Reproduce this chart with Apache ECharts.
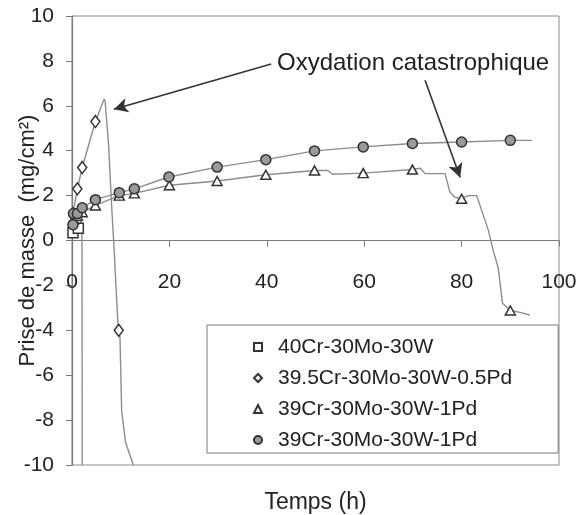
<!DOCTYPE html>
<html>
<head>
<meta charset="utf-8">
<script src="https://cdn.jsdelivr.net/npm/echarts@6/dist/echarts.min.js"></script>
<style>
html,body{margin:0;padding:0;background:#fff;}
#chart{width:580px;height:515px;}
</style>
</head>
<body>
<div id="chart"></div>
<script>
// ---- Data ----
const seriesNames = ['40Cr-30Mo-30W', '39.5Cr-30Mo-30W-0.5Pd', '39Cr-30Mo-30W-1Pd', '39Cr-30Mo-30W-1Pd '];

// 40Cr-30Mo-30W (squares)
const squareMarks = [[0.2, 0.35], [1.3, 0.55]];
const squareCurve = [[0, 0.1], [0.2, 0.35], [1.3, 0.55], [1.9, 0.95], [2.05, 0], [2.1, -10]];

// 39.5Cr-30Mo-30W-0.5Pd (diamonds)
const diamondMarks = [[0.2, 1.2], [1.1, 2.3], [2.1, 3.25], [4.8, 5.3], [9.6, -4.0]];
const diamondCurve = [[0, 0.5], [0.2, 1.2], [1.1, 2.3], [2.1, 3.25], [4.8, 5.3], [6.6, 6.3], [6.8, 6.2],
  [7.5, 4.3], [8.15, 1.5], [8.7, -0.6], [9.4, -3.6], [9.6, -4.0], [9.85, -4.3], [10.2, -7.6], [11, -9], [12.6, -10]];

// 39Cr-30Mo-30W-1Pd (triangles)
const triangleMarks = [[0.3, 0.95], [1.1, 1.1], [2.1, 1.26], [4.8, 1.56], [9.7, 2.0], [12.8, 2.1], [20, 2.46],
  [29.8, 2.65], [39.8, 2.93], [49.8, 3.12], [59.8, 3.0], [69.9, 3.16], [80, 1.86], [90, -3.12]];
const triangleCurve = [[0, 0.5], [0.3, 0.95], [1.1, 1.1], [2.1, 1.26], [4.8, 1.56], [9.7, 2.0], [12.8, 2.1], [20, 2.46],
  [29.8, 2.65], [39.8, 2.93], [49.8, 3.12], [52.5, 3.12], [53.5, 2.95], [59.8, 3.0], [69.9, 3.16], [71.5, 3.22],
  [72.5, 2.98], [76.6, 2.98], [77.6, 2.16], [78.6, 1.93], [80, 1.86], [81.3, 2.0], [83.1, 2.0], [85.5, 0.45],
  [86.5, -0.45], [87.5, -1.2], [88.4, -2.8], [90, -3.12], [92, -3.2], [94, -3.32]];

// 39Cr-30Mo-30W-1Pd (grey circles)
const circleMarks = [[0.2, 0.7], [0.3, 1.2], [1.1, 1.2], [2.1, 1.46], [4.8, 1.82], [9.7, 2.13], [12.8, 2.3], [19.9, 2.83],
  [29.8, 3.27], [39.8, 3.6], [49.8, 3.99], [59.8, 4.17], [69.9, 4.32], [80, 4.39], [90, 4.46]];
const circleCurve = [[0, 0.4], [0.3, 1.2], [1.1, 1.2], [2.1, 1.46], [4.8, 1.82], [9.7, 2.13], [12.8, 2.3], [19.9, 2.83],
  [29.8, 3.27], [39.8, 3.6], [49.8, 3.99], [59.8, 4.17], [69.9, 4.32], [80, 4.39], [90, 4.46], [94.5, 4.46]];

// Annotation arrows (data coordinates: from -> to)
const arrowPeak = [[40.9, 7.86], [8.6, 5.85]];
const arrowDrop = [[72.5, 7.14], [79.7, 2.81]];
const annotationText = 'Oxydation catastrophique';

const xTitle = 'Temps (h)';
const yTitle = 'Prise de masse  (mg/cm²)';

// ---- Chart ----
const FONT = "'Liberation Sans', Arial, sans-serif";
const lineGrey = '#8c8c8c';
const markEdge = '#333333';
const GRID = { left: 72, right: 21, top: 16, bottom: 50 };
const PLOT_H = 515 - GRID.top - GRID.bottom;
// the x axis sits on y = 0, i.e. half-way up the plot (y range -10..10)
const X_AXIS_OFFSET = -PLOT_H / 2;

function curve(name, data, extra) {
  return Object.assign({
    name: name, type: 'line', data: data, showSymbol: false, symbol: 'none',
    lineStyle: { color: lineGrey, width: 1.4 }, itemStyle: { color: lineGrey },
    silent: true, animation: false, z: 2
  }, extra || {});
}
function marks(name, data, symbol, size, fill) {
  return {
    name: name, type: 'scatter', data: data, symbol: symbol, symbolSize: size,
    itemStyle: { color: fill, borderColor: markEdge, borderWidth: 1.5, opacity: 1 },
    animation: false, z: 3
  };
}

const chart = echarts.init(document.getElementById('chart'), null, { renderer: 'canvas' });
chart.setOption({
  backgroundColor: '#fff',
  textStyle: { fontFamily: FONT },
  grid: Object.assign({ containLabel: false, outerBoundsMode: 'none',
          show: true, borderColor: '#8a8a8a', borderWidth: 1 }, GRID),
  xAxis: {
    type: 'value', min: 0, max: 100, interval: 20,
    position: 'bottom', offset: X_AXIS_OFFSET,
    name: xTitle, nameLocation: 'middle', nameGap: 251, nameMoveOverlap: false,
    nameTextStyle: { fontFamily: FONT, fontSize: 23, color: '#222' },
    axisLine: { onZero: false, lineStyle: { color: '#7a7a7a', width: 1.2 } },
    axisTick: { show: true, inside: false, length: 6, lineStyle: { color: '#7a7a7a' } },
    axisLabel: { margin: 31, fontFamily: FONT, fontSize: 21, color: '#222' },
    splitLine: { show: false }
  },
  yAxis: {
    type: 'value', min: -10, max: 10, interval: 2,
    name: yTitle, nameLocation: 'middle', nameGap: 33, nameRotate: 90, nameMoveOverlap: false,
    nameTextStyle: { fontFamily: FONT, fontSize: 22, color: '#222' },
    axisLine: { show: true, onZero: false, lineStyle: { color: '#7a7a7a', width: 1.2 } },
    axisTick: { show: true, inside: false, length: 6, lineStyle: { color: '#7a7a7a' } },
    axisLabel: { margin: 18, fontFamily: FONT, fontSize: 21, color: '#222' },
    splitLine: { show: false }
  },
  legend: {
    data: seriesNames,
    orient: 'vertical', left: 207, top: 325,
    padding: [11, 46, 2, 46],
    itemWidth: 8, itemHeight: 8, itemGap: 9,
    borderColor: '#7a7a7a', borderWidth: 1, backgroundColor: '#fff',
    formatter: n => n.trim(),
    textStyle: { fontFamily: FONT, fontSize: 21, color: '#222', lineHeight: 22, padding: [0, 0, 0, 11] },
    selectedMode: false
  },
  graphic: [{
    type: 'text', left: 277, top: 51,
    style: { text: annotationText, font: '24px ' + FONT, fill: '#222' }
  }],
  series: [
    curve('c-square', squareCurve),
    curve('c-diamond', diamondCurve),
    curve('c-triangle', triangleCurve),
    curve('c-circle', circleCurve, {
      markLine: {
        silent: true, animation: false,
        symbol: ['none', 'arrow'], symbolSize: [11, 14],
        label: { show: false },
        lineStyle: { color: '#333', width: 1.6, type: 'solid' },
        data: [
          [{ coord: arrowPeak[0] }, { coord: arrowPeak[1] }],
          [{ coord: arrowDrop[0] }, { coord: arrowDrop[1] }]
        ]
      }
    }),
    marks(seriesNames[0], squareMarks, 'rect', 10, '#fff'),
    marks(seriesNames[1], diamondMarks, 'diamond', [9, 12], '#fff'),
    marks(seriesNames[2], triangleMarks, 'triangle', [10, 9], '#fff'),
    marks(seriesNames[3], circleMarks, 'circle', 10, '#9a9a9a')
  ]
});
</script>
</body>
</html>
